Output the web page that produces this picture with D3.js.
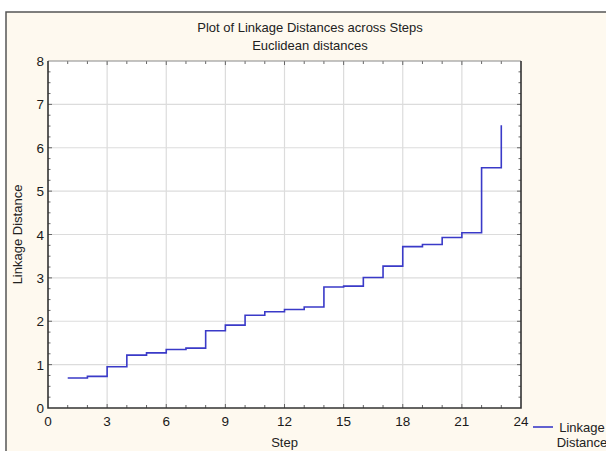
<!DOCTYPE html>
<html>
<head>
<meta charset="utf-8">
<script src="https://cdn.jsdelivr.net/npm/d3@7"></script>
<style>
  body { margin: 0; background: #fff; }
  svg { display: block; font-family: "Liberation Sans", Arial, sans-serif; }
</style>
</head>
<body>
<svg id="chart" width="606" height="451"></svg>
<script>
// ===== data =====
var steps = [1, 2, 3, 4, 5, 6, 7, 8, 9, 10, 11, 12, 13, 14, 15, 16, 17, 18, 19, 20, 21, 22, 23];
var linkage = [0.69, 0.73, 0.95, 1.22, 1.27, 1.35, 1.38, 1.78, 1.91, 2.14, 2.22, 2.27, 2.33, 2.79,
               2.81, 3.01, 3.27, 3.72, 3.77, 3.93, 4.04, 5.54, 6.52];
var xTicks = [0, 3, 6, 9, 12, 15, 18, 21, 24];
var yTicks = [0, 1, 2, 3, 4, 5, 6, 7, 8];
var titleLines = ["Plot of Linkage Distances across Steps", "Euclidean distances"];
var legendLines = ["Linkage", "Distance"];

var svg = d3.select("#chart");
var pLeft = 48, pRight = 521, pTop = 61, pBottom = 408;

// marco de fondo
svg.append("rect")
  .attr("x", 6).attr("y", 12).attr("width", 620).attr("height", 460)
  .attr("fill", "#fef9ef").attr("stroke", "#555").attr("stroke-width", 1.5);

var x = d3.scaleLinear().domain([0, 24]).range([pLeft, pRight]);
var y = d3.scaleLinear().domain([0, 8]).range([pBottom, pTop]);

svg.append("rect")
  .attr("x", pLeft).attr("y", pTop).attr("width", pRight - pLeft).attr("height", pBottom - pTop)
  .attr("fill", "#fff");

// grilla
svg.append("g").selectAll("line")
  .data(xTicks.slice(1, -1)).enter().append("line")
    .attr("x1", function(d) { return x(d); }).attr("x2", function(d) { return x(d); })
    .attr("y1", pTop).attr("y2", pBottom)
    .attr("stroke", "#dcdcdc").attr("stroke-width", 1.2);
svg.append("g").selectAll("line")
  .data(yTicks.slice(1, -1)).enter().append("line")
    .attr("y1", function(d) { return y(d); }).attr("y2", function(d) { return y(d); })
    .attr("x1", pLeft).attr("x2", pRight)
    .attr("stroke", "#dcdcdc").attr("stroke-width", 1.2);

// ticks hacia adentro
var xMinor = d3.range(1, 24);
var yMinor = d3.range(0.25, 8, 0.25);
function tickGroup(data, fn) {
  svg.append("g").selectAll("line").data(data).enter().append("line")
    .each(fn).attr("stroke", "#666").attr("stroke-width", 1);
}
tickGroup(xMinor, function(d) {
  d3.select(this).attr("x1", x(d)).attr("x2", x(d)).attr("y1", pBottom).attr("y2", pBottom - (d % 3 ? 3 : 4));
});
tickGroup(xMinor, function(d) {
  d3.select(this).attr("x1", x(d)).attr("x2", x(d)).attr("y1", pTop).attr("y2", pTop + (d % 3 ? 3 : 4));
});
tickGroup(yMinor, function(d) {
  d3.select(this).attr("y1", y(d)).attr("y2", y(d)).attr("x1", pLeft).attr("x2", pLeft + (d % 1 ? 2.5 : 4));
});
tickGroup(yMinor, function(d) {
  d3.select(this).attr("y1", y(d)).attr("y2", y(d)).attr("x1", pRight).attr("x2", pRight - (d % 1 ? 2.5 : 4));
});

// bordes del area
svg.append("line").attr("x1", pLeft).attr("x2", pRight).attr("y1", pTop).attr("y2", pTop)
  .attr("stroke", "#888").attr("stroke-width", 1);
svg.append("path")
  .attr("d", "M" + pLeft + "," + pTop + "V" + pBottom + "H" + pRight + "V" + pTop)
  .attr("fill", "none").attr("stroke", "#333").attr("stroke-width", 1.6);

// etiquetas de ejes
svg.append("g").selectAll("text").data(xTicks).enter().append("text")
  .attr("x", function(d) { return x(d); }).attr("y", 426)
  .attr("text-anchor", "middle").attr("font-size", 13.5).attr("fill", "#1a1a1a")
  .text(function(d) { return d; });
svg.append("g").selectAll("text").data(yTicks).enter().append("text")
  .attr("x", 44).attr("y", function(d) { return y(d) + 5; })
  .attr("text-anchor", "end").attr("font-size", 13.5).attr("fill", "#1a1a1a")
  .text(function(d) { return d; });

svg.append("text").attr("x", (pLeft + pRight) / 2).attr("y", 447)
  .attr("text-anchor", "middle").attr("font-size", 13).attr("fill", "#222").text("Step");
svg.append("text")
  .attr("transform", "translate(22," + ((pTop + pBottom) / 2) + ") rotate(-90)")
  .attr("text-anchor", "middle").attr("font-size", 13).attr("fill", "#222").text("Linkage Distance");

// titulo
svg.append("g").selectAll("text").data(titleLines).enter().append("text")
  .attr("x", 310).attr("y", function(d, i) { return 32 + i * 18; })
  .attr("text-anchor", "middle").attr("font-size", 13).attr("fill", "#222")
  .text(function(d) { return d; });

// linea escalonada
var line = d3.line()
  .x(function(d) { return x(d[0]); })
  .y(function(d) { return y(d[1]); })
  .curve(d3.curveStepAfter);
svg.append("path")
  .datum(d3.zip(steps, linkage))
  .attr("d", line)
  .attr("fill", "none").attr("stroke", "#3a3ac8").attr("stroke-width", 1.6);

// leyenda
svg.append("line").attr("x1", 533).attr("x2", 553).attr("y1", 427).attr("y2", 427)
  .attr("stroke", "#3a3ac8").attr("stroke-width", 1.6);
svg.append("g").selectAll("text").data(legendLines).enter().append("text")
  .attr("x", 582).attr("y", function(d, i) { return 432 + i * 15; })
  .attr("text-anchor", "middle").attr("font-size", 13).attr("fill", "#222")
  .text(function(d) { return d; });
</script>
</body>
</html>
